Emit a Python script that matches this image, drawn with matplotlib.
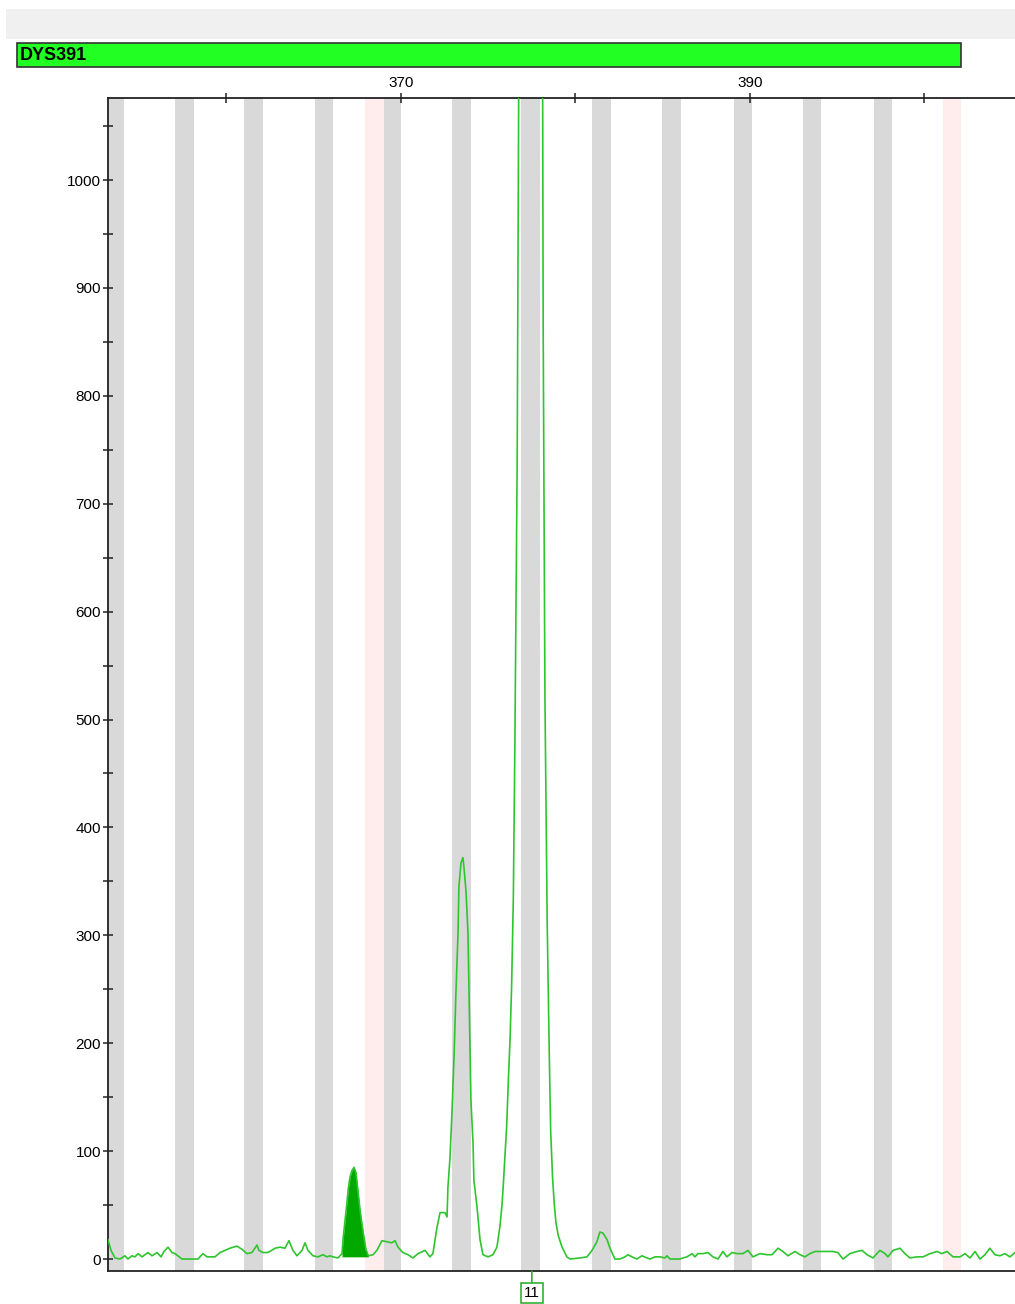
import matplotlib
matplotlib.use("Agg")
import matplotlib.pyplot as plt
from matplotlib.patches import Rectangle
from matplotlib.ticker import MultipleLocator, FixedLocator
import numpy as np

plt.rcParams["font.family"] = ["Liberation Sans", "DejaVu Sans"]

# ---- data -------------------------------------------------------------
marker_name = "DYS391"

# allele bins (bp); virtual bins drawn in pink
bin_centers = [353.57, 357.59, 361.56, 365.58, 369.50, 373.46, 377.42,
               381.48, 385.49, 389.59, 393.55, 397.62]
virtual_bin_centers = [368.49, 401.59]
bin_width = 1.06

# electropherogram trace: size (bp) and signal (RFU)
size_bp = [
    353.21, 353.38, 353.61, 353.90, 354.18, 354.35, 354.58, 354.76, 354.93, 355.16,
    355.33, 355.50, 355.73, 356.02, 356.25, 356.42, 356.65, 356.88, 357.05, 357.45,
    357.91, 358.37, 358.65, 358.88, 359.11, 359.34, 359.63, 359.91, 360.20, 360.60,
    360.89, 361.17, 361.46, 361.75, 361.86, 362.09, 362.32, 362.49, 362.78, 363.07,
    363.35, 363.58, 363.81, 364.04, 364.33, 364.50, 364.67, 364.96, 365.24, 365.53,
    365.76, 365.93, 366.10, 366.39,
    366.62, 366.69, 366.79, 366.89, 366.98, 367.08, 367.19, 367.31, 367.42, 367.54,
    367.65, 367.76, 367.88, 367.99, 368.13,
    368.40, 368.62,
    368.91, 369.20, 369.48, 369.66, 369.83, 370.11, 370.40, 370.69, 370.97, 371.38,
    371.66, 371.83, 372.06, 372.24, 372.52, 372.64, 372.69, 372.81, 372.92, 373.04,
    373.15, 373.27, 373.32, 373.44, 373.55, 373.61, 373.73, 373.84, 373.90, 373.95,
    374.01, 374.13, 374.18, 374.36, 374.53, 374.70, 374.99, 375.27, 375.50, 375.67,
    375.79, 375.87, 375.96, 376.06, 376.15, 376.25, 376.34, 376.44, 376.53, 376.66,
    376.79, 376.93, 377.16, 377.45, 377.74, 377.97, 378.11, 378.15, 378.25, 378.38,
    378.50, 378.58, 378.69, 378.79, 378.88, 379.01, 379.23, 379.51, 379.69, 380.26,
    380.66, 380.95, 381.23, 381.40, 381.58, 381.81, 381.98, 382.26, 382.55, 382.84,
    383.01, 383.24, 383.52, 383.81, 384.10, 384.27, 384.56, 384.84, 385.13, 385.24,
    385.42, 385.70, 385.99, 386.16, 386.39, 386.68, 386.85, 387.02, 387.31, 387.59,
    387.88, 388.17, 388.45, 388.68, 388.97, 389.26, 389.60, 389.89, 390.17, 390.57,
    390.98, 391.26, 391.61, 391.89, 392.18, 392.58, 392.87, 393.15, 393.44, 393.73,
    394.01, 394.41, 394.76, 395.04, 395.33, 395.73, 396.13, 396.42, 396.71, 397.05,
    397.45, 397.74, 397.91, 398.20, 398.60, 398.88, 399.17, 399.57, 399.92, 400.32,
    400.72, 401.00, 401.29, 401.64, 402.04, 402.32, 402.61, 402.90, 403.18, 403.47,
    403.75, 404.04, 404.33, 404.61, 404.90, 405.19,
]
rfu = [
    18, 8, 1, 0, 3, 0, 3, 2, 5, 2,
    4, 6, 3, 6, 2, 7, 11, 6, 5, 0,
    0, 0, 5, 2, 2, 2, 6, 8, 10, 12,
    9, 5, 6, 13, 8, 6, 6, 7, 10, 11,
    10, 17, 8, 3, 8, 15, 8, 3, 2, 4,
    2, 3, 2, 1,
    5, 20, 35, 50, 65, 76, 82, 85, 80, 62,
    46, 33, 20, 9, 3,
    4, 8,
    17, 16, 15, 17, 11, 6, 4, 1, 5, 8,
    2, 5, 29, 43, 43, 39, 66, 94, 135, 187,
    247, 302, 345, 367, 372, 363, 340, 302, 247, 197,
    147, 107, 73, 48, 18, 4, 2, 4, 11, 30,
    50, 70, 95, 124, 164, 203, 252, 335, 481, 739,
    1250, 2200, 3000, 3300, 2900, 2000, 1150, 865, 523, 312,
    189, 118, 75, 50, 34, 22, 11, 2, 0, 1,
    2, 8, 16, 25, 24, 18, 10, 0, 0, 2,
    4, 2, 0, 3, 1, 0, 2, 2, 1, 3,
    0, 0, 0, 1, 2, 5, 2, 5, 5, 6,
    2, 0, 7, 2, 6, 5, 5, 8, 2, 5,
    4, 4, 10, 7, 3, 7, 4, 2, 5, 7,
    7, 7, 7, 6, 0, 5, 7, 8, 4, 1,
    8, 5, 2, 8, 10, 5, 1, 2, 2, 5,
    7, 5, 7, 2, 2, 5, 1, 7, 0, 4,
    10, 4, 3, 5, 2, 6,
]

# peak shown filled (bp range)
filled_peak = (366.62, 368.13)

# allele call
allele_labels = ["11"]
allele_sizes = [377.50]

x_ticks = [360, 370, 380, 390, 400]
x_tick_labels = ["", "370", "", "390", ""]
y_ticks = [0, 100, 200, 300, 400, 500, 600, 700, 800, 900, 1000]

# ---- styling -----------------------------------------------------------
trace_color = "#2ec52e"
fill_color = "#00a800"
bin_color = "#d9d9d9"
virtual_bin_color = "#ffecec"
axis_color = "#222222"

W, H = 1015, 1304
fig = plt.figure(figsize=(W / 100, H / 100), dpi=100)
fig.patch.set_facecolor("white")

# header strip and marker bar
fig.add_artist(Rectangle((6 / W, 1 - 39 / H), 1 - 6 / W, 30 / H,
                         transform=fig.transFigure, facecolor="#f0f0f0",
                         edgecolor="none"))
fig.add_artist(Rectangle((17 / W, 1 - 67 / H), 943.5 / W, 24 / H,
                         transform=fig.transFigure, facecolor="#22ff22",
                         edgecolor="#333333", linewidth=1.2))
fig.text(20 / W, 1 - 55 / H, marker_name, fontsize=13, fontweight="bold",
         ha="left", va="center", color="black")

ax = fig.add_axes([108 / W, 33 / H, 1 - 108 / W, (1271 - 98) / H])
ax.set_xlim(353.21, 405.19)
ax.set_ylim(-11.1, 1076)

for c in bin_centers:
    ax.axvspan(c - bin_width / 2, c + bin_width / 2, color=bin_color,
               linewidth=0, zorder=0)
for c in virtual_bin_centers:
    ax.axvspan(c - bin_width / 2, c + bin_width / 2, color=virtual_bin_color,
               linewidth=0, zorder=0)

x = np.asarray(size_bp)
y = np.asarray(rfu)
mask = (x >= filled_peak[0]) & (x <= filled_peak[1])
ax.fill_between(x[mask], y[mask], 2, color=fill_color, linewidth=0, zorder=2)
ax.plot(x, y, color=trace_color, linewidth=1.2, zorder=3)

# axes
ax.spines["right"].set_visible(False)
for side in ("left", "top", "bottom"):
    ax.spines[side].set_color(axis_color)
    ax.spines[side].set_linewidth(1.3)

ax.xaxis.tick_top()
ax.xaxis.set_major_locator(FixedLocator(x_ticks))
ax.set_xticklabels(x_tick_labels)
ax.tick_params(axis="x", which="both", direction="inout", length=7, width=1.1,
               colors=axis_color, labelcolor="black", labelsize=11, pad=2,
               bottom=False, top=True)

ax.yaxis.set_major_locator(FixedLocator(y_ticks))
ax.yaxis.set_minor_locator(MultipleLocator(50))
ax.tick_params(axis="y", which="both", direction="inout", length=7, width=1.1,
               colors=axis_color, labelcolor="black", labelsize=11, pad=1.5)

# allele label below the axis
for lab, pos in zip(allele_labels, allele_sizes):
    ax.annotate(lab, xy=(pos, 0), xycoords=("data", "axes fraction"),
                xytext=(0, -22), textcoords="offset pixels",
                ha="center", va="center", fontsize=11, color="black",
                bbox=dict(boxstyle="square,pad=0.2", facecolor="white",
                          edgecolor="#22aa22", linewidth=1.1),
                arrowprops=dict(arrowstyle="-", color="#22aa22", lw=1.1,
                                shrinkA=0, shrinkB=0),
                annotation_clip=False)

fig.savefig("out.png", dpi=100)
